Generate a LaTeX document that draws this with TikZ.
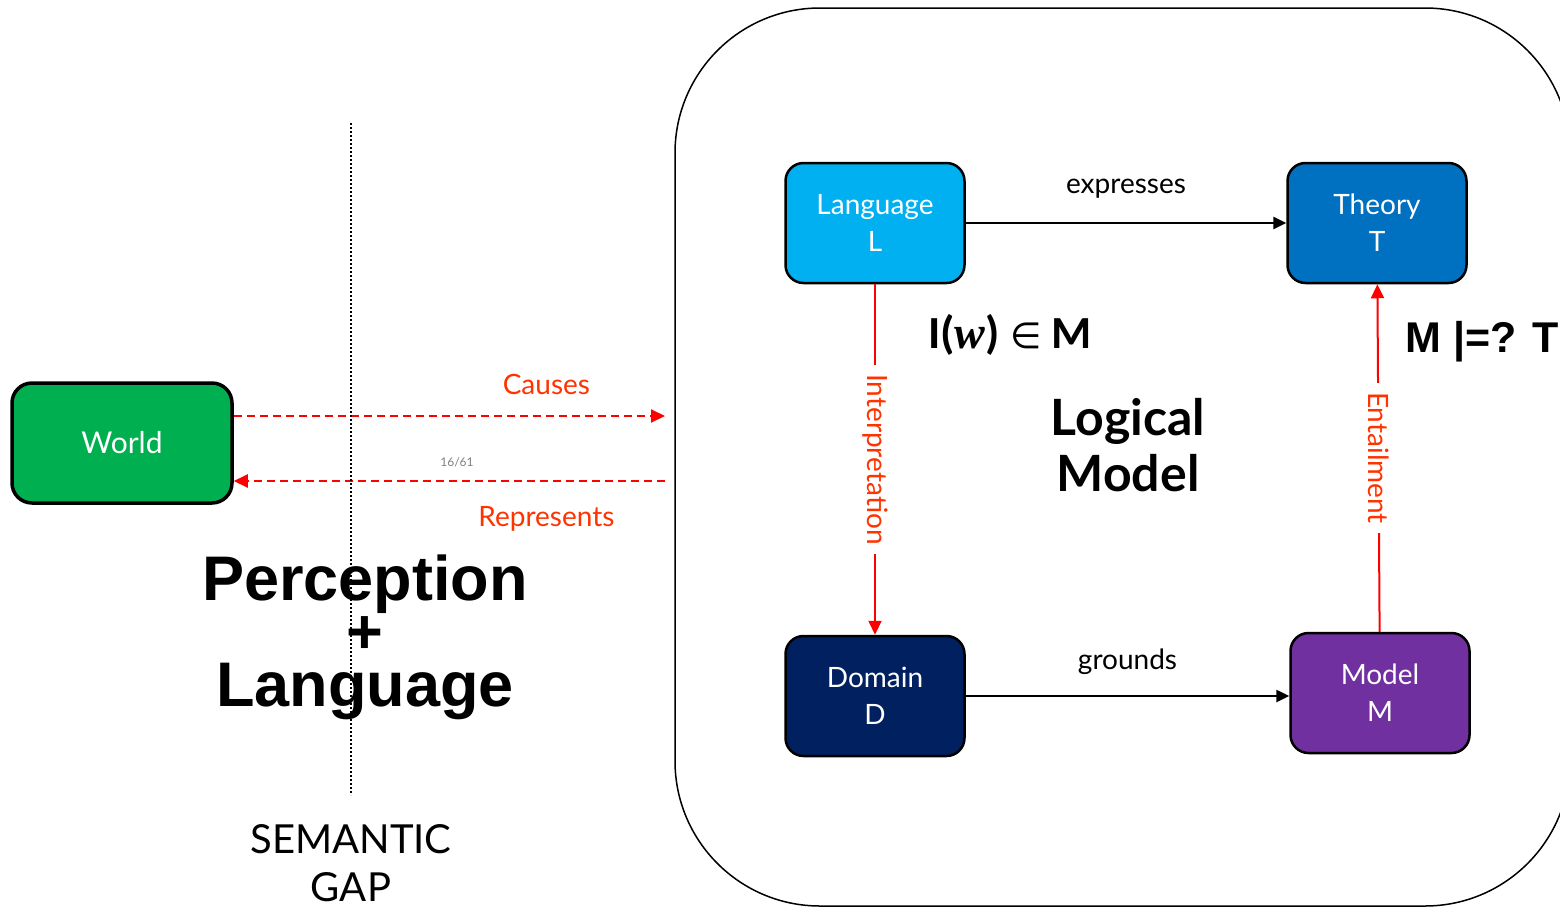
\documentclass[tikz,border=0pt]{standalone}
\usepackage{fontspec}
\setmainfont{Lato}
\newfontfamily\arialfont{Liberation Sans}
\newfontfamily\calfont{Carlito}
\newfontfamily\serifit{Liberation Serif}
\newfontfamily\symfont{DejaVu Sans}
\usetikzlibrary{arrows.meta,positioning}
\definecolor{worldgreen}{HTML}{00B050}
\definecolor{langblue}{HTML}{00B0F0}
\definecolor{theoryblue}{HTML}{0070C0}
\definecolor{domainnavy}{HTML}{002060}
\definecolor{modelpurple}{HTML}{7030A0}
\definecolor{linkred}{HTML}{FF0000}
\definecolor{labred}{HTML}{FF3300}

\begin{document}
\begin{tikzpicture}[x=1pt, y=-1pt, >={Triangle[length=13pt,width=12pt]},
    box/.style={draw, line width=2.5pt, rounded corners=18pt, minimum width=179pt,
      minimum height=120pt, text=white, align=center, font=\fontsize{28}{37}\selectfont},
    link/.style={->, line width=2.5pt},
    redlink/.style={->, draw=linkred, line width=2pt, >={Triangle[length=14pt,width=13pt]}},
    gaplink/.style={redlink, dash pattern=on 8pt off 5pt},
    lab/.style={font=\fontsize{28}{34}\selectfont},
    redlab/.style={lab, text=labred, fill=white, inner sep=9pt}]
  \useasboundingbox (0,0) rectangle (1560,908);
  % ---- logical model frame
  \draw[line width=1.5pt, rounded corners=145pt] (675,8) rectangle (1570,906);
  % ---- boxes
  \node[box, line width=3.5pt, minimum width=220pt, rounded corners=20pt, fill=worldgreen,
    font=\fontsize{30}{37}\selectfont] (world) at (122,443) {World};
  \node[box, fill=langblue] (lang) at (875,223) {Language\\L};
  \node[box, fill=theoryblue] (theory) at (1377,223) {Theory\\T};
  \node[box, fill=domainnavy] (domain) at (875,696) {Domain\\D};
  \node[box, fill=modelpurple] (model) at (1380,693) {Model\\M};
  % ---- inner connectors
  \draw[link] (lang) -- node[lab, midway, above=20pt] {expresses} (theory);
  \draw[link] (domain.east) -- node[lab, midway, above=17pt] {grounds} (domain.east -| model.west);
  \draw[redlink] (lang) -- node[redlab, midway, rotate=-90] {Interpretation} (domain);
  \draw[redlink] (model) -- node[redlab, midway, rotate=-90] {Entailment} (theory);
  % ---- formulas
  \node[font=\calfont\bfseries\fontsize{46}{50}\selectfont] (interp) at (1010,335)
    {I({\serifit\itshape w}) {\symfont\mdseries\fontsize{36}{40}\selectfont ∈} M};
  \node[font=\arialfont\bfseries\fontsize{43}{50}\selectfont] (entail) at (1482,342) {M |=? T};
  \node[font=\bfseries\fontsize{50}{56}\selectfont, align=center] (logical) at (1128,445) {Logical\\Model};
  % ---- semantic gap
  \coordinate (gapR) at (665,416);
  \coordinate (gapL) at (665,481);
  \draw[gaplink] (world.east |- gapR) -- node[lab, text=labred, pos=0.725, above=17pt] {Causes} (gapR);
  \draw[gaplink] (gapL) -- node[lab, text=labred, pos=0.275, below=21pt] {Represents} (world.east |- gapL);
  \node[font=\fontsize{12}{14}\selectfont, text=gray] (page) at (457,462) {16/61};
  \node[font=\arialfont\bfseries\fontsize{63}{53}\selectfont, align=center] (percep) at (365,637) {Perception\\+\\Language};
  \coordinate (gapTop) at (351,123);
  \coordinate (gapBot) at (351,795);
  \draw[line width=2pt, dash pattern=on 2pt off 2pt] (gapTop) -- (gapBot);
  \node[font=\fontsize{40}{48}\selectfont, align=center] (gap) at (351,863) {SEMANTIC\\GAP};
\end{tikzpicture}
\end{document}
